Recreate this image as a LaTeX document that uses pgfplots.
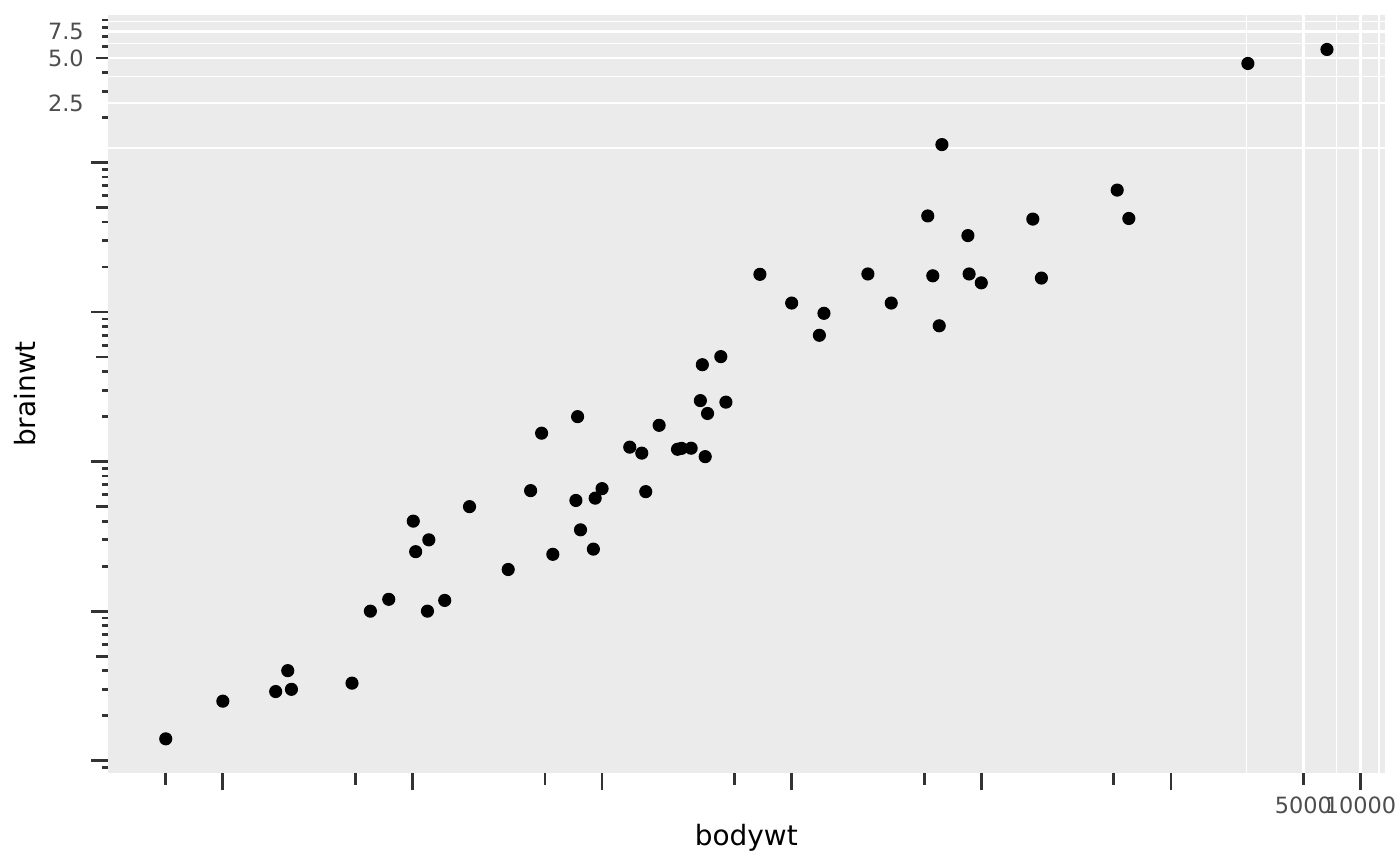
\documentclass[border=0pt]{standalone}
\usepackage{fontspec}
\setmainfont{DejaVu Sans}
\usepackage{pgfplots}
\pgfplotsset{compat=1.18}
\usepackage{pgfplotstable}
\definecolor{panelgray}{HTML}{EBEBEB}
\definecolor{tickgray}{HTML}{333333}
\definecolor{labelgray}{HTML}{4D4D4D}

\pgfplotstableread{
bodywt brainwt
0.480 0.01550
0.019 0.00029
600.000 0.42300
14.000 0.07000
14.800 0.09820
33.500 0.11500
0.728 0.00550
0.420 0.00640
0.060 0.00100
1.000 0.00660
0.005 0.00014
3.500 0.01080
2.950 0.01230
1.700 0.00630
2547.000 4.60300
0.023 0.00030
521.000 0.65500
187.000 0.41900
0.770 0.00350
10.000 0.11500
3.300 0.02560
0.200 0.00500
85.000 0.32500
2.625 0.01227
62.000 1.32000
6654.000 5.71200
6.800 0.17900
0.120 0.00100
0.022 0.00040
0.010 0.00025
1.400 0.01250
2.500 0.01210
55.500 0.17500
52.200 0.44000
100.000 0.15700
25.235 0.18000
0.550 0.00240
1.620 0.01140
60.000 0.08100
3.600 0.02100
0.320 0.00190
0.743 0.02000
0.075 0.00120
0.148 0.00118
0.122 0.00300
0.920 0.00570
0.101 0.00400
0.048 0.00033
86.250 0.18000
4.500 0.02500
207.501 0.16900
0.900 0.00260
0.104 0.00250
2.000 0.01750
3.380 0.04450
4.230 0.05040
}\msleep

\begin{document}
\begin{tikzpicture}
\path[use as bounding box] (0,0) rectangle (505.89pt,312.93pt);
\begin{axis}[
  at={(38.92pt,33.50pt)}, anchor=south west,
  scale only axis, width=461.55pt, height=274.01pt,
  xmode=log, ymode=log,
  xmin=0.0024706, xmax=13465, ymin=8.234e-5, ymax=9.712,
  axis background/.style={fill=panelgray},
  axis line style={draw=none},
  xtick={5000,10000}, xticklabels={5000,10000},
  minor xtick={2500,7500,12500},
  ytick={2.5,5,7.5}, yticklabels={2.5,5.0,7.5},
  minor ytick={1.25,3.75,6.25,8.75},
  major tick length=0pt, minor tick length=0pt,
  xmajorgrids, ymajorgrids, xminorgrids, yminorgrids,
  major grid style={white, line width=0.98pt},
  minor grid style={white, line width=0.49pt},
  tick label style={font=\fontsize{8.1}{9.7}\selectfont, text=labelgray, inner sep=0pt},
  xticklabel style={anchor=base, yshift=-14.45pt},
  yticklabel style={anchor=east, xshift=-8.46pt},
]
\addplot[only marks, mark=*, mark size=2.17pt, draw=black, fill=black] table[x=bodywt, y=brainwt] {\msleep};
\end{axis}
\begin{axis}[
  at={(38.92pt,33.50pt)}, anchor=south west,
  scale only axis, width=461.55pt, height=274.01pt,
  xmode=log, ymode=log,
  xmin=0.0024706, xmax=13465, ymin=8.234e-5, ymax=9.712,
  axis line style={draw=none},
  tick align=outside, xtick pos=left, ytick pos=left,
  xtick={0.01,0.1,1,10,100,1000,10000}, xticklabels={},
  extra x ticks={0.005,0.05,0.5,5,50,500,5000}, extra x tick labels={},
  ytick={1e-4,1e-3,0.01,0.1,1}, yticklabels={},
  extra y ticks={5e-4,5e-3,0.05,0.5,5}, extra y tick labels={},
  minor ytick={9e-5,2e-4,3e-4,4e-4,6e-4,7e-4,8e-4,9e-4,2e-3,3e-3,4e-3,6e-3,7e-3,8e-3,9e-3,0.02,0.03,0.04,0.06,0.07,0.08,0.09,0.2,0.3,0.4,0.6,0.7,0.8,0.9,2,3,4,6,7,8,9},
  xminorticks=false,
  major tick length=6.1pt, minor tick length=2.06pt,
  extra tick style={major tick length=4.1pt, grid=none},
  tick style={tickgray, line width=0.98pt},
]
\end{axis}
\node[font=\fontsize{10.1}{12}\selectfont, anchor=base, inner sep=0pt] at (269.67pt,7.34pt) {bodywt};
\node[font=\fontsize{10.1}{12}\selectfont, anchor=base, rotate=90, inner sep=0pt] at (12.90pt,170.56pt) {brainwt};
\end{tikzpicture}
\end{document}
